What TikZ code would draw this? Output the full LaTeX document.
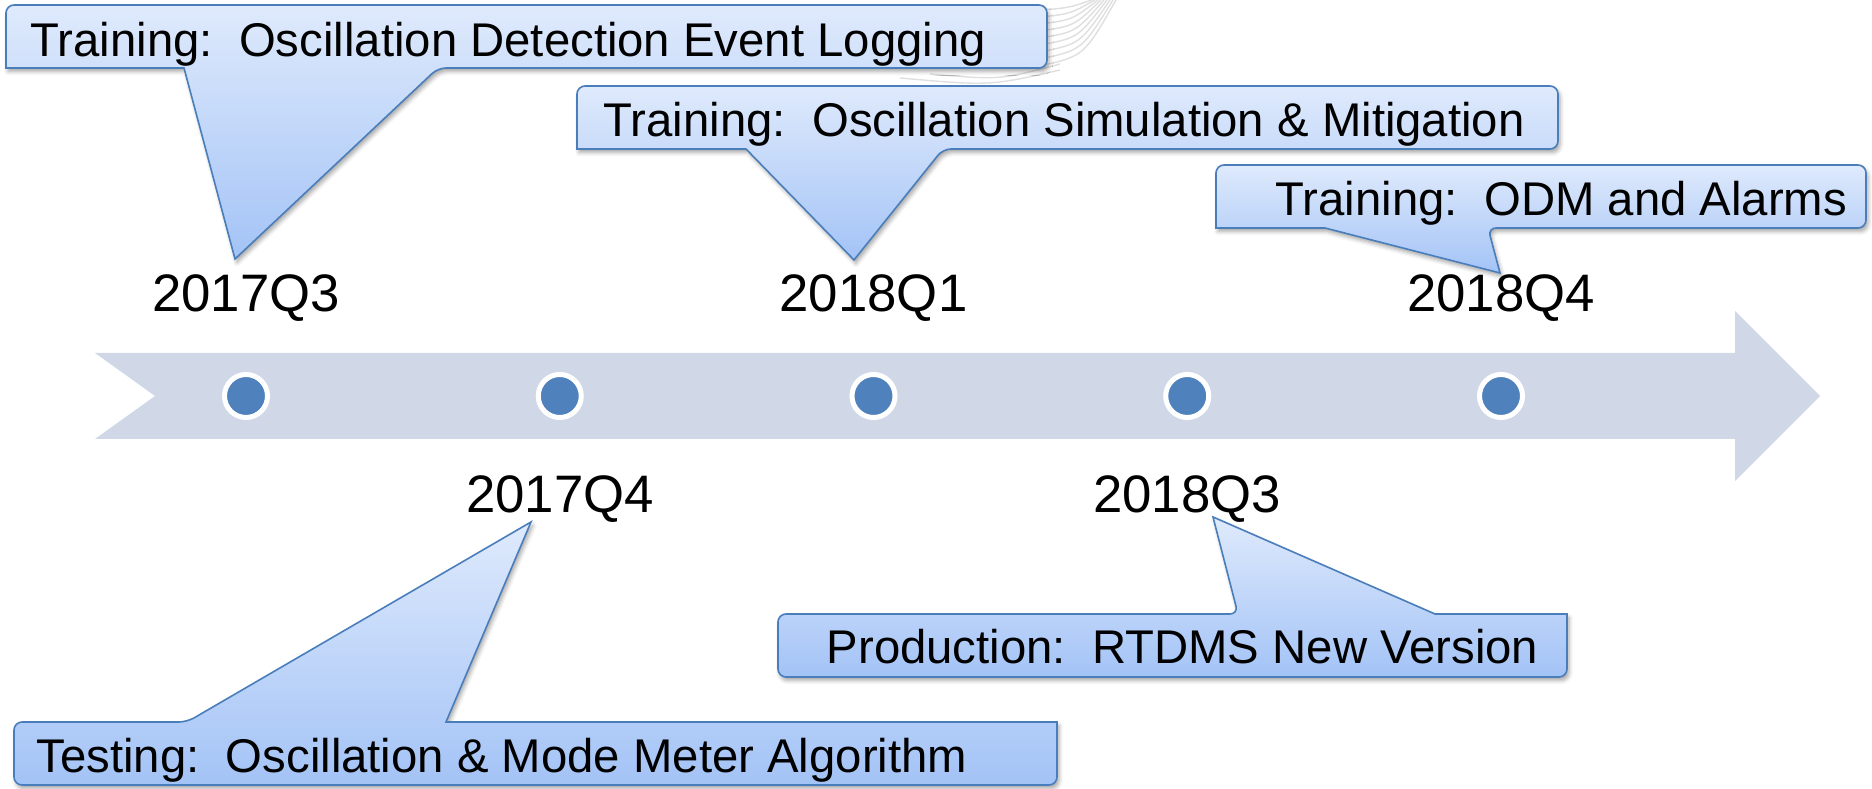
\documentclass[tikz,border=0pt]{standalone}
\usepackage{fontspec}
\setmainfont{Liberation Sans}
\usetikzlibrary{shadows.blur}

\definecolor{arrowgray}{RGB}{208,216,232}
\definecolor{dotblue}{RGB}{79,129,189}
\definecolor{bubbleedge}{RGB}{74,126,187}
\definecolor{bubbletop}{RGB}{223,234,252}
\definecolor{bubblebot}{RGB}{163,195,246}

\tikzset{
  bubble/.style={draw=bubbleedge, line width=0.016cm, top color=bubbletop, bottom color=bubblebot,
    blur shadow={shadow xshift=0.02cm, shadow yshift=-0.035cm, shadow blur radius=0.04cm, shadow opacity=35}},
  dot/.style={circle, fill=dotblue, draw=white, line width=0.05cm, minimum size=0.43cm, inner sep=0pt},
  date/.style={font=\fontsize{15}{18}\selectfont, anchor=base, inner sep=0pt},
  saytext/.style={font=\fontsize{13.45}{16}\selectfont, anchor=base west, inner sep=0pt},
  faint/.style={draw=gray!25, line width=0.4pt}
}

\begin{document}
\begin{tikzpicture}
[x=0.01cm, y=-0.01cm]

\useasboundingbox (0,0) rectangle (1872,789);

% faint lines behind the first box
\foreach \k in {0,...,8}
  \path[faint] (1040,{10+7*\k}) .. controls ({1068+2*\k},{8+6*\k}) .. ({1092+3*\k},0);
\path[faint] (900,78) .. controls (990,86) .. (1060,70);
\path[faint] (930,74) .. controls (1000,80) .. (1060,64);

% timeline arrow
\fill[arrowgray] (95,353) -- (1735,353) -- (1735,311) -- (1820,396) -- (1735,481)
  -- (1735,439) -- (95,439) -- (155,396) -- cycle;

\foreach \i in {1,...,5}
  \node[dot] (p\i) at ({246+313.75*(\i-1)},396) {};

\node[date] (D1) at (246,312) {2017Q3};
\node[date] (D2) at (560,513) {2017Q4};
\node[date] (D3) at (873.5,312) {2018Q1};
\node[date] (D4) at (1187,513) {2018Q3};
\node[date] (D5) at (1501,312) {2018Q4};

% callout tips
\coordinate (t1) at (235,259);
\coordinate (t2) at (854,260);
\coordinate (t3) at (1500,273);
\coordinate (t4) at (531,522);
\coordinate (t5) at (1213,517);

\path[bubble] (t1) -- (184,68) -- (6,68) [rounded corners=0.08cm] -- (6,5) -- (1047,5)
  -- (1047,68) -- (438,68) [sharp corners] -- cycle;
\path[bubble] (t2) -- (746,149) -- (577,149) [rounded corners=0.08cm] -- (577,86) -- (1558,86)
  -- (1558,149) -- (943,149) [sharp corners] -- cycle;
\path[bubble] (t3) -- (1325,228) -- (1216,228) [rounded corners=0.08cm] -- (1216,165) -- (1866,165)
  -- (1866,228) -- (1488,228) [sharp corners] -- cycle;
\path[bubble] (t4) -- (446,722) -- (1057,722) [rounded corners=0.08cm] -- (1057,785) -- (14,785)
  -- (14,722) -- (187,722) [sharp corners] -- cycle;
\path[bubble] (t5) -- (1435,614) -- (1567,614) [rounded corners=0.08cm] -- (1567,677) -- (778,677)
  -- (778,614) -- (1238,614) [sharp corners] -- cycle;

\node[saytext] (C1) at (30,57) {Training:~~Oscillation Detection Event Logging};
\node[saytext] (C2) at (603,137) {Training:~~Oscillation Simulation \& Mitigation};
\node[saytext] (C3) at (1275,216) {Training:~~ODM and Alarms};
\node[saytext] (C4) at (36,773) {Testing:~~Oscillation \& Mode Meter Algorithm};
\node[saytext] (C5) at (826,664) {Production:~~RTDMS New Version};

\end{tikzpicture}
\end{document}
